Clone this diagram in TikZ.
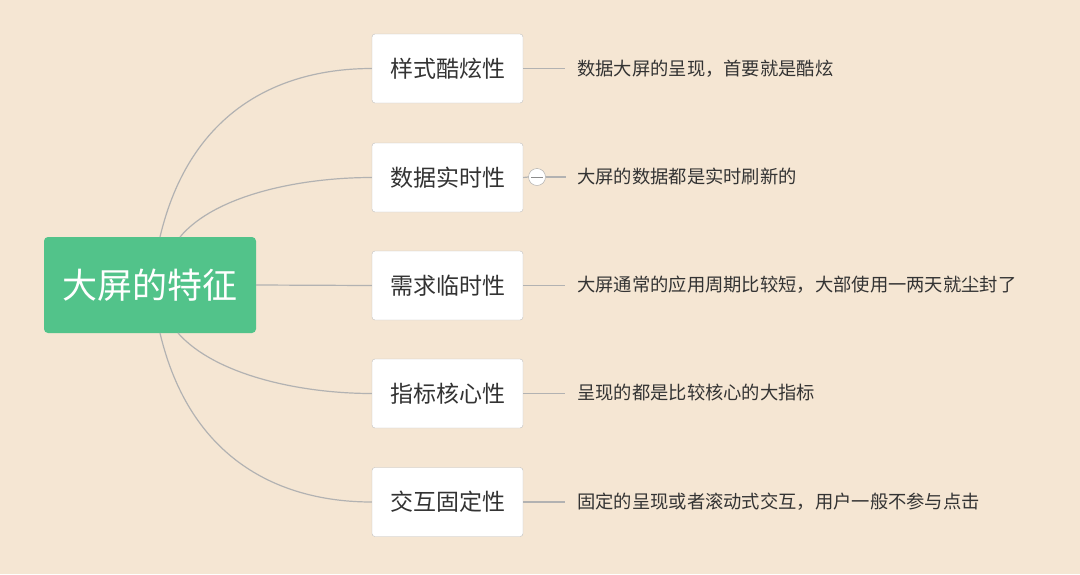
\documentclass[tikz,border=0pt]{standalone}
\usepackage{fontspec}
\setmainfont{Noto Sans CJK SC}
\begin{document}
\begin{tikzpicture}[x=1pt,y=-1pt,
 box/.style={draw=black!25,fill=white,rounded corners=3pt,minimum width=151pt,minimum height=69pt,font=\fontsize{23}{26}\selectfont,text=black!80,inner sep=0pt},
 lbl/.style={anchor=west,font=\fontsize{18.3}{20}\selectfont,text=black!80,inner sep=0pt},
 ln/.style={draw=black!30,line width=1.2pt}]
\fill[fill={rgb,255:red,245;green,230;blue,211}] (0,0) rectangle (1080,574);
\node[fill={rgb,255:red,82;green,195;blue,138},rounded corners=4pt,minimum width=212pt,minimum height=96pt,text=white,font=\fontsize{35}{38}\selectfont,inner sep=0pt] (root) at (150,285) {大屏的特征};
\node[box] (b1) at (447.5,68.5) {样式酷炫性};
\node[box] (b2) at (447.5,177.5) {数据实时性};
\node[box] (b3) at (447.5,285.5) {需求临时性};
\node[box] (b4) at (447.5,393.5) {指标核心性};
\node[box] (b5) at (447.5,502) {交互固定性};
\coordinate (r1) at (160,237); \coordinate (r2) at (180,237);
\coordinate (r4) at (178,333); \coordinate (r5) at (160,333);
\draw[ln] (r1) .. controls (190,110) and (280,68.5) .. (b1.west);
\draw[ln] (r2) .. controls (215,195) and (300,177.5) .. (b2.west);
\draw[ln] (root.east) -- (b3.west);
\draw[ln] (r4) .. controls (215,375) and (300,393.5) .. (b4.west);
\draw[ln] (r5) .. controls (190,460) and (280,502) .. (b5.west);
\node[lbl] (t1) at (577,69) {数据大屏的呈现，首要就是酷炫};
\node[lbl] (t2) at (577,177) {大屏的数据都是实时刷新的};
\node[lbl] (t3) at (577,285) {大屏通常的应用周期比较短，大部使用一两天就尘封了};
\node[lbl] (t4) at (577,393) {呈现的都是比较核心的大指标};
\node[lbl] (t5) at (577,502) {固定的呈现或者滚动式交互，用户一般不参与点击};
\draw[ln] (b1.east) -- ++(42,0);
\node[circle,draw=black!35,fill=white,minimum size=17pt,inner sep=0pt] (c2) at (537,177) {};
\draw[black!45,line width=0.8pt] (531,177) -- (543,177);
\draw[ln] (b2.east) -- (c2.west); \draw[ln] (c2.east) -- ++(20,0);
\draw[ln] (b3.east) -- ++(42,0);
\draw[ln] (b4.east) -- ++(42,0);
\draw[ln] (b5.east) -- ++(42,0);
\end{tikzpicture}
\end{document}
